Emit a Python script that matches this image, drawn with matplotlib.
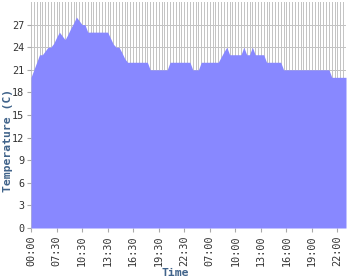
import matplotlib
matplotlib.use('Agg')
import matplotlib.pyplot as plt
import numpy as np

# temperature samples (one every ~20 min)
temps = [20, 21, 22, 23, 23, 23.5, 24, 24, 24.5, 25.3,
         26, 25.5, 25, 25.7, 26.5, 27.2, 28, 27.5, 27, 27,
         26, 26, 26, 26, 26, 26, 26, 26, 25.2, 24.4,
         24, 24, 23.3, 22.5, 22, 22, 22, 22, 22, 22,
         22, 22, 21, 21, 21, 21, 21, 21, 21, 22,
         22, 22, 22, 22, 22, 22, 22, 21, 21, 21,
         22, 22, 22, 22, 22, 22, 22, 22.7, 23.4, 24,
         23, 23, 23, 23, 23, 24, 23, 23, 24, 23,
         23, 23, 23, 22, 22, 22, 22, 22, 22, 21,
         21, 21, 21, 21, 21, 21, 21, 21, 21, 21,
         21, 21, 21, 21, 21, 21, 20, 20, 20, 20,
         20, 20]
tick_labels = ['00:00', '07:30', '10:30', '13:30', '16:30', '19:30', '22:30',
               '07:00', '10:00', '13:00', '16:00', '19:00', '22:00']
tick_step = 9
y_ticks = [0, 3, 6, 9, 12, 15, 18, 21, 24, 27]

x = np.arange(len(temps))

fig = plt.figure(figsize=(3.5, 2.8), dpi=100)
ax = fig.add_axes([31/350, 1-228/280, 315/350, 226/280])

# dense vertical grid, one line per sample
for xi in x:
    ax.axvline(xi, color='#c4c4c4', lw=0.72, zorder=0, snap=True, antialiased=False)
for yt in y_ticks:
    ax.axhline(yt, color='#c4c4c4', lw=0.72, zorder=0, snap=True, antialiased=False)

ax.fill_between(x, temps, 0, color='#8888ff', lw=0, zorder=2)

ax.set_xlim(0, len(temps) - 1)
ax.set_ylim(0, 30)
ax.set_yticks(y_ticks)
ax.set_xticks(np.arange(len(tick_labels)) * tick_step)
ax.set_xticklabels(tick_labels, rotation=90, family='DejaVu Sans Mono',
                   fontsize=7.3, color='#333333')
ax.set_yticklabels([str(v) for v in y_ticks], family='DejaVu Sans Mono',
                   fontsize=7.3, color='#333333')
ax.tick_params(axis='both', length=3, width=0.8, color='#aaaaaa', pad=2)
for s in ax.spines.values():
    s.set_visible(False)

fig.text(8/350, 0.5, 'Temperature (C)', rotation=90, ha='center', va='center',
         family='DejaVu Sans Mono', fontweight='bold', fontsize=8.2, color='#40638a')
fig.text(0.5, 1-272.5/280, 'Time', ha='center', va='center',
         family='DejaVu Sans Mono', fontweight='bold', fontsize=8.2, color='#40638a')

fig.savefig('out.png', dpi=100)
